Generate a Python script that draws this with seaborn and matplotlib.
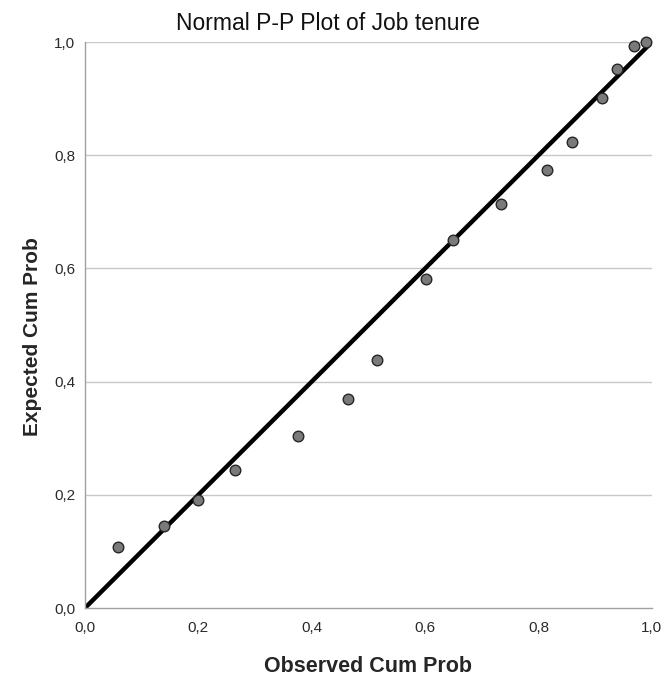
import matplotlib
matplotlib.use("Agg")
import matplotlib.pyplot as plt
import seaborn as sns
import pandas as pd

observed = [0.059, 0.140, 0.199, 0.264, 0.375, 0.464, 0.515, 0.601, 0.650,
            0.733, 0.815, 0.859, 0.912, 0.939, 0.969, 0.990]
expected = [0.108, 0.145, 0.191, 0.244, 0.304, 0.369, 0.439, 0.581, 0.650,
            0.714, 0.773, 0.823, 0.901, 0.952, 0.993, 1.000]
ref_line = [0.0, 1.0]
ticks = [0.0, 0.2, 0.4, 0.6, 0.8, 1.0]
tick_labels = ["0,0", "0,2", "0,4", "0,6", "0,8", "1,0"]

sns.set_theme(style="white")
plt.rcParams["font.family"] = ["Liberation Sans", "DejaVu Sans"]

df = pd.DataFrame({"Observed": observed, "Expected": expected})

fig = plt.figure(figsize=(6.67, 6.82), dpi=100)
ax = fig.add_axes([0.1274, 0.1085, 0.85, 0.8299])

ax.set_xlim(0, 1)
ax.set_ylim(0, 1)
for t in ticks[1:]:
    ax.axhline(t, color="#c8c8c8", lw=1.0, zorder=0)

sns.lineplot(x=ref_line, y=ref_line, ax=ax, color="black", lw=3.2, zorder=2)
sns.scatterplot(data=df, x="Observed", y="Expected", ax=ax, s=58,
                color="#7a7a7a", edgecolor="#262626", linewidth=1.0,
                zorder=3, clip_on=False)

ax.set_xticks(ticks)
ax.set_xticklabels(tick_labels)
ax.set_yticks(ticks)
ax.set_yticklabels(tick_labels)
ax.tick_params(axis="both", labelsize=11, colors="#2a2a2a", length=0)
ax.tick_params(axis="x", pad=9)
ax.tick_params(axis="y", pad=7)

for side in ["top", "right"]:
    ax.spines[side].set_visible(False)
for side in ["left", "bottom"]:
    ax.spines[side].set_color("#a0a0a0")
    ax.spines[side].set_linewidth(1.0)

ax.set_xlabel("Observed Cum Prob", fontsize=15.5, fontweight="bold")
ax.xaxis.set_label_coords(0.5, -0.085)
ax.set_ylabel("Expected Cum Prob", fontsize=15, fontweight="bold")
ax.yaxis.set_label_coords(-0.076, 0.479)
fig.text(0.492, 1 - 23 / 682, "Normal P-P Plot of Job tenure", fontsize=16.5,
         ha="center", va="center", color="#111111")

fig.savefig("out.png", dpi=100)
